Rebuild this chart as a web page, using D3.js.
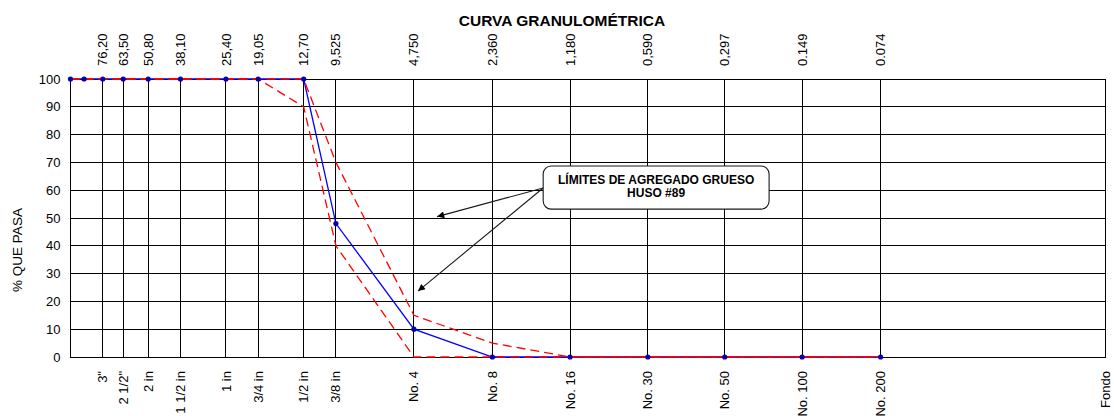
<!DOCTYPE html>
<html>
<head>
<meta charset="utf-8">
<script src="https://cdn.jsdelivr.net/npm/d3@7"></script>
<style>
  html, body { margin: 0; padding: 0; background: #fff; }
  svg { display: block; font-family: "Liberation Sans", Arial, sans-serif; }
</style>
</head>
<body>
<svg id="chart" width="1114" height="416"></svg>
<script>
// Sieve openings (mm), their names and the printed opening labels
const sieveSizes = [76.2, 63.5, 50.8, 38.1, 25.4, 19.05, 12.7, 9.525, 4.75, 2.36, 1.18, 0.59, 0.297, 0.149, 0.074];
const sieveNames = ["3\"", "2 1/2\"", "2 in", "1 1/2 in", "1 in", "3/4 in", "1/2 in", "3/8 in", "No. 4", "No. 8", "No. 16", "No. 30", "No. 50", "No. 100", "No. 200"];
const openingLabels = ["76,20", "63,50", "50,80", "38,10", "25,40", "19,05", "12,70", "9,525", "4,750", "2,360", "1,180", "0,590", "0,297", "0.149", "0.074"];
const panSize = 0.01;
const panName = "Fondo";

// Points of the curves (mm) and percentage passing
const pointSizes = [101.6, 90, 76.2, 63.5, 50.8, 38.1, 25.4, 19.05, 12.7, 9.525, 4.75, 2.36, 1.18, 0.59, 0.297, 0.149, 0.074];
const passing    = [100, 100, 100, 100, 100, 100, 100, 100, 100, 48, 10, 0, 0, 0, 0, 0, 0];
const upperLimit = [100, 100, 100, 100, 100, 100, 100, 100, 100, 70, 15, 5, 0, 0, 0, 0, 0];
const lowerLimit = [100, 100, 100, 100, 100, 100, 100, 100, 90, 40, 0, 0, 0, 0, 0, 0, 0];

const yTicks = [0, 10, 20, 30, 40, 50, 60, 70, 80, 90, 100];

const titleText = "CURVA GRANULOMÉTRICA";
const yTitle = "% QUE PASA";
const noteLines = ["LÍMITES DE AGREGADO GRUESO", "HUSO #89"];
// Note box corners and arrow tips, in (mm, % passing)
const noteBox = { left: 1.5, right: 0.2, top: 68.7, bottom: 53.2, anchor: 60.8 };
const noteTargets = [[3.86, 50.5], [4.58, 23.7]];

const svg = d3.select("#chart");

const x = d3.scaleLog().domain([101.6, panSize]).range([70.5, 1105]);
const y = d3.scaleLinear().domain([0, 100]).range([357, 79]);

const [x0, x1] = x.range();
const [yb, yt] = y.range();

// Title
svg.append("text")
  .attr("x", 562).attr("y", 26)
  .attr("text-anchor", "middle")
  .attr("font-size", 15.5).attr("font-weight", "bold")
  .text(titleText);

// Grid
const grid = svg.append("g").attr("stroke", "#000").attr("stroke-width", 1).attr("shape-rendering", "crispEdges");
grid.selectAll("line.h").data(yTicks).join("line")
  .attr("x1", x0).attr("x2", x1)
  .attr("y1", d => y(d)).attr("y2", d => y(d));
grid.selectAll("line.v").data(sieveSizes).join("line")
  .attr("x1", d => x(d)).attr("x2", d => x(d))
  .attr("y1", yt).attr("y2", yb);
grid.append("rect")
  .attr("x", x0).attr("y", yt)
  .attr("width", x1 - x0).attr("height", yb - yt)
  .attr("fill", "none");

// Y axis labels
const yAxis = d3.axisLeft(y).tickValues(yTicks).tickSize(0).tickPadding(10);
const ya = svg.append("g").attr("transform", `translate(${x0},0)`).call(yAxis);
ya.select(".domain").remove();
ya.selectAll("text").attr("font-size", 13).attr("font-family", "Liberation Sans, Arial, sans-serif").attr("fill", "#000");

svg.append("text")
  .attr("transform", "translate(22,250) rotate(-90)")
  .attr("text-anchor", "middle")
  .attr("font-size", 13.5)
  .text(yTitle);

// Top opening labels
svg.append("g").selectAll("text").data(sieveSizes).join("text")
  .attr("transform", d => `translate(${x(d)},66) rotate(-90)`)
  .attr("dy", "0.35em")
  .attr("font-size", 13)
  .text((d, i) => openingLabels[i]);

// Bottom sieve names
const bottomSizes = sieveSizes.concat([panSize]);
const bottomNames = sieveNames.concat([panName]);
svg.append("g").selectAll("text").data(bottomSizes).join("text")
  .attr("transform", d => `translate(${x(d)},371) rotate(-90)`)
  .attr("dy", "0.35em")
  .attr("text-anchor", "end")
  .attr("font-size", 13)
  .text((d, i) => bottomNames[i]);

// Curves
const line = d3.line().x(d => x(d[0])).y(d => y(d[1]));
const zipped = vals => pointSizes.map((s, i) => [s, vals[i]]);

svg.append("path")
  .datum(zipped(passing))
  .attr("d", line)
  .attr("fill", "none").attr("stroke", "#0000ff").attr("stroke-width", 1.3);

[upperLimit, lowerLimit].forEach(lim => {
  svg.append("path")
    .datum(zipped(lim))
    .attr("d", line)
    .attr("fill", "none").attr("stroke", "#ff0000").attr("stroke-width", 1.3)
    .attr("stroke-dasharray", "9,5");
});

svg.append("g").selectAll("circle").data(zipped(passing)).join("circle")
  .attr("cx", d => x(d[0])).attr("cy", d => y(d[1]))
  .attr("r", 2.6).attr("fill", "#0000b4");

// Note with arrows
svg.append("defs").append("marker")
  .attr("id", "arrowhead")
  .attr("viewBox", "0 0 10 10")
  .attr("refX", 10).attr("refY", 5)
  .attr("markerWidth", 9).attr("markerHeight", 7)
  .attr("markerUnits", "userSpaceOnUse")
  .attr("orient", "auto")
  .append("path").attr("d", "M0,0 L10,5 L0,10 z").attr("fill", "#000");

const bx0 = x(noteBox.left), bx1 = x(noteBox.right);
const by0 = y(noteBox.top), by1 = y(noteBox.bottom);
const ay = y(noteBox.anchor);

svg.append("g").selectAll("line").data(noteTargets).join("line")
  .attr("x1", bx0).attr("y1", ay)
  .attr("x2", d => x(d[0])).attr("y2", d => y(d[1]))
  .attr("stroke", "#1a1a1a").attr("stroke-width", 1.1)
  .attr("marker-end", "url(#arrowhead)");

svg.append("rect")
  .attr("x", bx0).attr("y", by0)
  .attr("width", bx1 - bx0).attr("height", by1 - by0)
  .attr("rx", 8).attr("ry", 8)
  .attr("fill", "#fff").attr("stroke", "#1a1a1a").attr("stroke-width", 1.1);

svg.append("g").selectAll("text").data(noteLines).join("text")
  .attr("x", (bx0 + bx1) / 2)
  .attr("y", (d, i) => by0 + 18 + i * 13)
  .attr("text-anchor", "middle")
  .attr("font-size", 12).attr("font-weight", "bold")
  .text(d => d);
</script>
</body>
</html>
